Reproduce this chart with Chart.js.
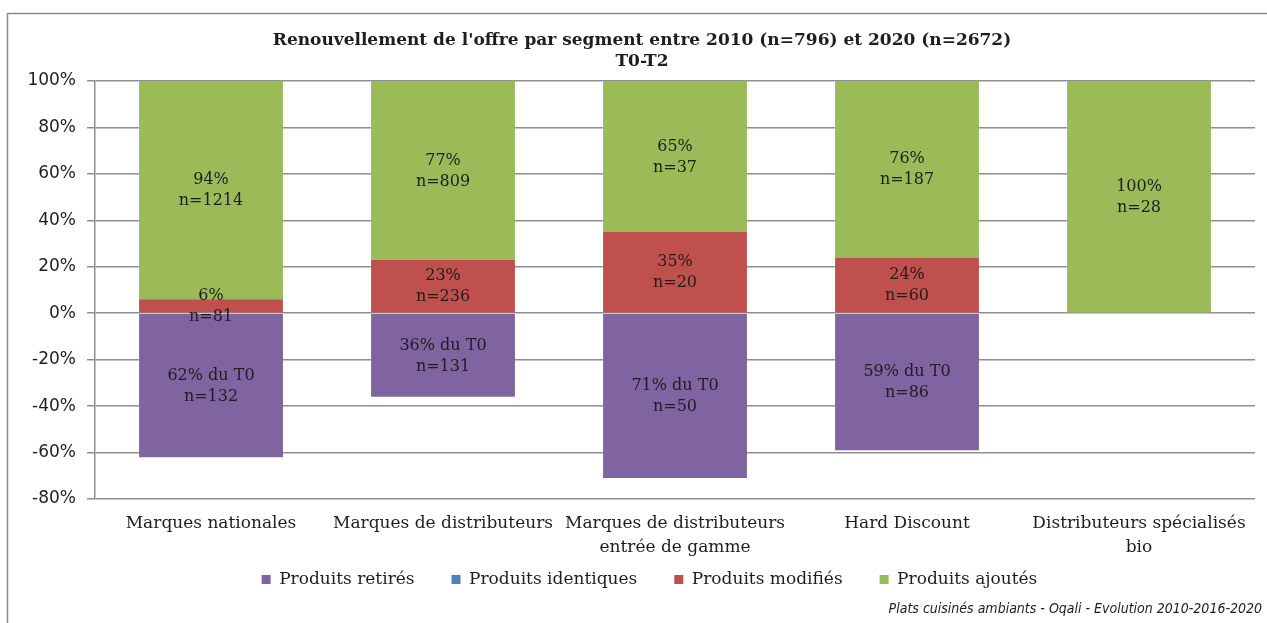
<!DOCTYPE html>
<html lang="fr">
<head>
<meta charset="utf-8">
<title>Renouvellement de l'offre par segment</title>
<script src="https://cdn.jsdelivr.net/npm/chart.js@4.4.1/dist/chart.umd.min.js"></script>
<style>
    html, body { margin: 0; padding: 0; background: #ffffff; }
    #wrap { position: relative; width: 1267px; height: 623px; }
</style>
</head>
<body>
<div id="wrap"><canvas id="renouvellementChart" width="1267" height="623"></canvas></div>
<script>
// Segments and shares (in % of the segment), with product counts per stack
const categories = [
    ['Marques nationales'],
    ['Marques de distributeurs'],
    ['Marques de distributeurs', 'entrée de gamme'],
    ['Hard Discount'],
    ['Distributeurs spécialisés', 'bio']
];
const retires    = [-62, -36, -71, -59, 0];
const identiques = [0, 0, 0, 0, 0];
const modifies   = [6, 23, 35, 24, 0];
const ajoutes    = [94, 77, 65, 76, 100];

const retiresN  = [132, 131, 50, 86, null];
const modifiesN = [81, 236, 20, 60, null];
const ajoutesN  = [1214, 809, 37, 187, 28];

const yTicks = [-80, -60, -40, -20, 0, 20, 40, 60, 80, 100];

const titleLines = ["Renouvellement de l'offre par segment entre 2010 (n=796) et 2020 (n=2672)", 'T0-T2'];
const sourceText = 'Plats cuisinés ambiants - Oqali - Evolution 2010-2016-2020';

const SERIF = "'DejaVu Serif', 'Liberation Serif', serif";
const SANS = "'DejaVu Sans', 'Open Sans', sans-serif";
const TEXT = '#1e1e1e';
const GRID = '#8f8f8f';

// Frame, title and source note around the plot
const decorPlugin = {
    id: 'decor',
    afterLayout(chart) {
        // legend sits a bit higher (under the two-line labels) and slightly right
        const lg = chart.legend;
        if (lg) {
            lg.top -= 25; lg.bottom -= 25;
            lg.left += 22; lg.right += 22;
        }
    },
    beforeDraw(chart) {
        const ctx = chart.ctx;
        ctx.save();
        ctx.strokeStyle = '#8a8a8a';
        ctx.lineWidth = 1.5;
        ctx.beginPath();
        ctx.moveTo(7.5, chart.height);
        ctx.lineTo(7.5, 13.5);
        ctx.lineTo(chart.width + 2, 13.5);
        ctx.stroke();
        ctx.restore();
    },
    afterDraw(chart) {
        const ctx = chart.ctx;
        ctx.save();
        ctx.fillStyle = TEXT;
        ctx.textAlign = 'center';
        ctx.textBaseline = 'middle';
        ctx.font = 'bold 17px ' + SERIF;
        ctx.fillText(titleLines[0], 642, 41);
        ctx.fillText(titleLines[1], 642, 62);
        ctx.font = "italic 14px 'Liberation Sans Narrow', 'DejaVu Sans Condensed', sans-serif";
        ctx.textAlign = 'right';
        ctx.fillText(sourceText, 1262, 609);
        ctx.restore();
    }
};

// Share and count written in the middle of each segment
const segmentLabels = {
    id: 'segmentLabels',
    afterDatasetsDraw(chart) {
        const ctx = chart.ctx;
        ctx.save();
        ctx.fillStyle = TEXT;
        ctx.font = '16px ' + SERIF;
        ctx.textAlign = 'center';
        ctx.textBaseline = 'middle';
        chart.data.datasets.forEach((ds, di) => {
            if (!ds.counts) return;
            const meta = chart.getDatasetMeta(di);
            meta.data.forEach((bar, i) => {
                const v = ds.data[i];
                if (!v) return;
                const cy = (bar.y + bar.base) / 2;
                const first = ds.fromT0 ? Math.abs(v) + '% du T0' : v + '%';
                ctx.fillText(first, bar.x, cy - 10);
                ctx.fillText('n=' + ds.counts[i], bar.x, cy + 11);
            });
        });
        ctx.restore();
    }
};

const ctx = document.getElementById('renouvellementChart').getContext('2d');
new Chart(ctx, {
    type: 'bar',
    data: {
        labels: categories,
        datasets: [{
            label: 'Produits retirés',
            data: retires,
            counts: retiresN,
            fromT0: true,
            backgroundColor: '#8064A2'
        }, {
            label: 'Produits identiques',
            data: identiques,
            backgroundColor: '#4F81BD'
        }, {
            label: 'Produits modifiés',
            data: modifies,
            counts: modifiesN,
            backgroundColor: '#C0504D'
        }, {
            label: 'Produits ajoutés',
            data: ajoutes,
            counts: ajoutesN,
            backgroundColor: '#9BBB59'
        }]
    },
    options: {
        responsive: false,
        animation: false,
        devicePixelRatio: 1,
        layout: { padding: { top: 81, right: 12, bottom: 0, left: 0 } },
        datasets: {
            bar: { categoryPercentage: 1, barPercentage: 0.62, borderWidth: 0 }
        },
        plugins: {
            legend: {
                position: 'bottom',
                labels: {
                    boxWidth: 9,
                    boxHeight: 9,
                    padding: 37,
                    color: TEXT,
                    font: { family: SERIF, size: 17 }
                }
            },
            tooltip: { enabled: false }
        },
        scales: {
            x: {
                stacked: true,
                grid: { display: false },
                border: { display: false },
                ticks: {
                    color: TEXT,
                    padding: 5,
                    maxRotation: 0,
                    autoSkip: false,
                    font: { family: SERIF, size: 17, lineHeight: 1.4 }
                },
                afterFit(scale) { scale.height = 60; }
            },
            y: {
                stacked: true,
                min: -80,
                max: 100,
                afterBuildTicks(scale) { scale.ticks = yTicks.map(v => ({ value: v })); },
                grid: { color: GRID, lineWidth: 1.5, tickLength: 8 },
                border: { color: GRID, width: 1.5 },
                ticks: {
                    color: TEXT,
                    padding: 11,
                    font: { family: SANS, size: 17 },
                    callback: v => v + '%'
                },
                afterFit(scale) { scale.width = 95; }
            }
        }
    },
    plugins: [decorPlugin, segmentLabels]
});
</script>
</body>
</html>
